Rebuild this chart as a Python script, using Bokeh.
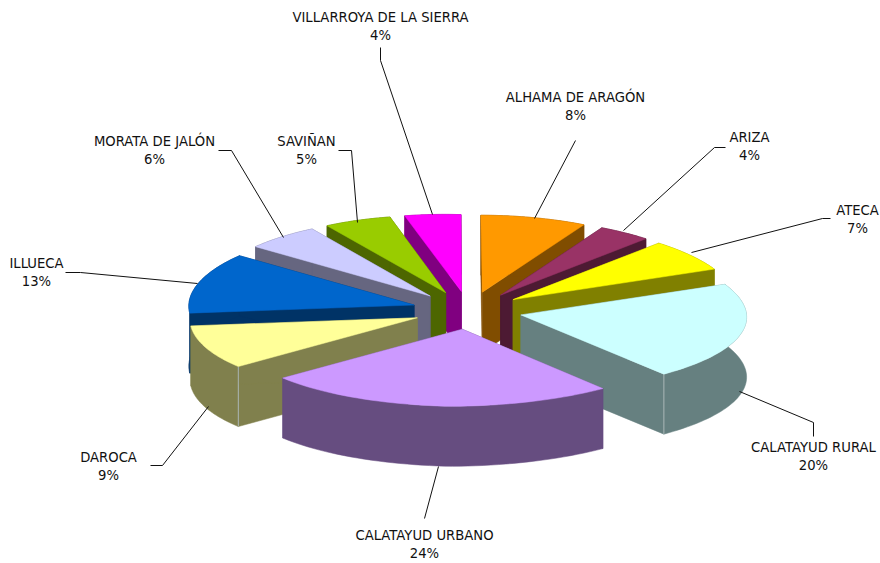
import numpy as np
from bokeh.plotting import figure
from bokeh.models import Range1d
from bokeh.core.properties import value
from bokeh.embed import file_html
from bokeh.resources import INLINE

names = ["ALHAMA DE ARAGÓN", "ARIZA", "ATECA", "CALATAYUD RURAL", "CALATAYUD URBANO",
         "DAROCA", "ILLUECA", "MORATA DE JALÓN", "SAVIÑAN", "VILLARROYA DE LA SIERRA"]
shares = [8.0, 3.9, 6.6, 20.45, 23.9, 9.2, 12.7, 5.7, 5.2, 4.3]
labels = ["8%", "4%", "7%", "20%", "24%", "9%", "13%", "6%", "5%", "4%"]
top_colors = ["#FF9900", "#993366", "#FFFF00", "#CCFFFF", "#CC99FF",
              "#FFFF99", "#0066CC", "#CCCCFF", "#99CC00", "#FF00FF"]
wall_colors = ["#804D00", "#4D1A33", "#808000", "#668080", "#664D80",
               "#80804D", "#003366", "#666680", "#4D6600", "#800080"]

# layout, in page pixels
CX, CY, RX, RY, DEPTH, EXPLODE, PERSP = 467, 310, 225, 77, 60, 0.245, 0.05
SKEW, BOW, LEFT_LIFT = 0.029, -0.022, 6
label_pos = [(575, 97), (749, 137), (857, 210), (813, 447), (424, 535),
             (108, 457), (36, 263), (154, 141), (306, 141), (380, 17)]
leaders = [[(575, 140), (534, 218)],
           [(725, 147), (714, 147), (623, 230)],
           [(830, 218), (822, 218), (691, 252)],
           [(813, 436), (813, 422), (739, 391)],
           [(424, 518), (438, 466)],
           [(150, 465), (162, 465), (208, 406)],
           [(65, 272), (80, 272), (197, 283)],
           [(218, 150), (231, 150), (283, 237)],
           [(338, 150), (351, 150), (357, 222)],
           [(380, 47), (380, 60), (432, 214)]]

p = figure(width=880, height=563, output_backend="svg", toolbar_location=None,
           x_range=Range1d(0, 880), y_range=Range1d(563, 0), min_border=0)
p.axis.visible = False
p.grid.visible = False
p.outline_line_color = None
p.background_fill_color = "#FFFFFF"

def project(a, b):
    s = 1 - PERSP * b
    return (CX + RX * (a + SKEW * b + BOW * b * b) * s,
            CY - RY * b - LEFT_LIFT * np.maximum(-a, 0))

edges = np.concatenate([[0], np.cumsum(shares)]) / np.sum(shares) * 2 * np.pi
mids = (edges[:-1] + edges[1:]) / 2
order = np.argsort(-np.abs(mids - np.pi))

for i in order:
    ea, eb = EXPLODE * np.sin(mids[i]), EXPLODE * np.cos(mids[i])
    th = np.linspace(edges[i], edges[i + 1], 48)
    ox, oy = project(ea + np.sin(th), eb + np.cos(th))
    tx, ty = project(np.array([ea]), np.array([eb]))
    wall = dict(fill_color=wall_colors[i], line_color=wall_colors[i], line_width=0.5)
    # two cut faces, then the rim
    for k in (0, -1):
        p.patch([tx[0], ox[k], ox[k], tx[0]],
                [ty[0], oy[k], oy[k] + DEPTH, ty[0] + DEPTH], **wall)
    p.patch(np.concatenate([ox, ox[::-1]]), np.concatenate([oy, oy[::-1] + DEPTH]), **wall)
    # highlight along the visible front corner of the slice
    k = -1 if mids[i] < np.pi else 0
    if oy[k] > ty[0] + 20 and abs(mids[i] - np.pi) > 0.6:
        p.line([ox[k], ox[k]], [oy[k], oy[k] + DEPTH], line_color="#A9B5B5", line_width=1)
    p.patch(np.concatenate([tx, ox]), np.concatenate([ty, oy]),
            fill_color=top_colors[i], line_color=top_colors[i], line_width=0.5)

for pts in leaders:
    p.line([q[0] for q in pts], [q[1] for q in pts], line_color="#111111", line_width=1)

for n, l, (lx, ly) in zip(names, labels, label_pos):
    for txt, yy in ((n, ly), (l, ly + 18)):
        p.text([lx], [yy], text=[txt], text_font=value("DejaVu Sans"), text_font_size="13.2px",
               text_color="#111111", text_align="center", text_baseline="middle")

open("out.html", "w").write(file_html(p, INLINE))
